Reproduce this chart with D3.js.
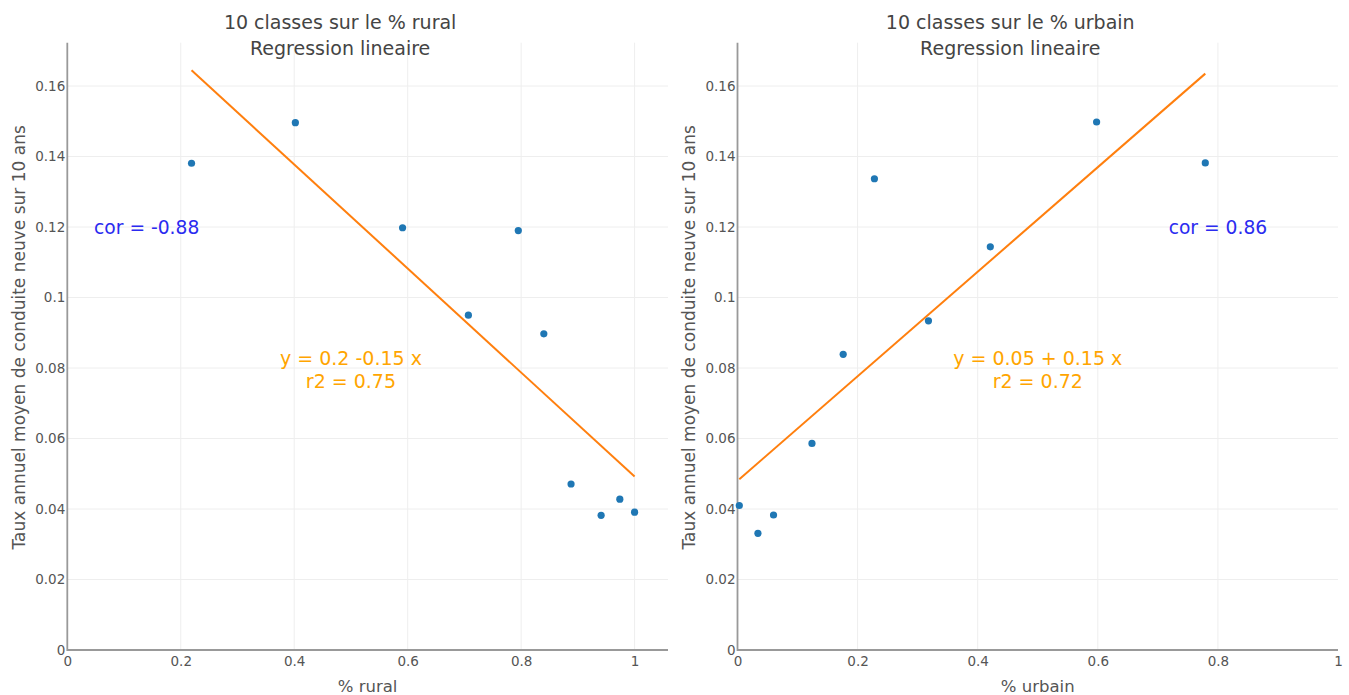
<!DOCTYPE html>
<html>
<head>
<meta charset="utf-8">
<script src="https://cdn.jsdelivr.net/npm/d3@7"></script>
<style>
  html, body { margin: 0; padding: 0; background: #fff; }
  svg { display: block; font-family: "DejaVu Sans", Verdana, sans-serif; }
</style>
</head>
<body>
<svg id="chart" width="1349" height="695"></svg>
<script>
// ---- Data ----
const rural      = [0.219, 0.402, 0.591, 0.707, 0.795, 0.840, 0.888, 0.941, 0.974, 1.000];
const tauxRural  = [0.1381, 0.1496, 0.1198, 0.0950, 0.1190, 0.0897, 0.0471, 0.0382, 0.0428, 0.0391];
const urbain     = [0.003, 0.034, 0.060, 0.124, 0.176, 0.228, 0.318, 0.421, 0.598, 0.779];
const tauxUrbain = [0.0410, 0.0331, 0.0383, 0.0586, 0.0839, 0.1337, 0.0934, 0.1144, 0.1498, 0.1382];

// regression coefficients [intercept, slope]
const fitRural  = [0.1968, -0.1476];
const fitUrbain = [0.0480, 0.1483];

const yTicks = [0, 0.02, 0.04, 0.06, 0.08, 0.1, 0.12, 0.14, 0.16];
const yTickLabels = ["0", "0.02", "0.04", "0.06", "0.08", "0.1", "0.12", "0.14", "0.16"];
const xTicks = [0, 0.2, 0.4, 0.6, 0.8, 1];
const xTickLabels = ["0", "0.2", "0.4", "0.6", "0.8", "1"];

const titlesRural  = ["10 classes sur le % rural", "Regression lineaire"];
const titlesUrbain = ["10 classes sur le % urbain", "Regression lineaire"];
const yTitle = "Taux annuel moyen de conduite neuve sur 10 ans";
const annotRural  = { cor: "cor = -0.88", eq: ["y = 0.2 -0.15 x", "r2 = 0.75"], corPos: [0.14, 0.12], eqPos: [0.5, 0.0795] };
const annotUrbain = { cor: "cor = 0.86",  eq: ["y = 0.05 + 0.15 x", "r2 = 0.72"], corPos: [0.8, 0.12], eqPos: [0.5, 0.0795] };

// ---- Drawing ----
const svg = d3.select("#chart");
const yMax = 0.1723;
const plotTop = 42.7, plotBottom = 650;

const panels = [
  { xs: rural, ys: tauxRural, fit: fitRural, xDomain: [0, 1.0589], range: [67.3, 668], titles: titlesRural, xTitle: "% rural", annot: annotRural },
  { xs: urbain, ys: tauxUrbain, fit: fitUrbain, xDomain: [0, 1], range: [737.5, 1338], titles: titlesUrbain, xTitle: "% urbain", annot: annotUrbain }
];

panels.forEach(p => {
  const x = d3.scaleLinear().domain(p.xDomain).range(p.range);
  const y = d3.scaleLinear().domain([0, yMax]).range([plotBottom, plotTop]);
  const g = svg.append("g");

  // grid
  g.append("g").selectAll("line")
    .data(xTicks.filter(t => t > 0 && x(t) < p.range[1] - 1))
    .join("line")
    .attr("x1", d => x(d)).attr("x2", d => x(d))
    .attr("y1", plotTop).attr("y2", plotBottom)
    .attr("stroke", "#eeeeee").attr("stroke-width", 1);
  g.append("g").selectAll("line")
    .data(yTicks.filter(t => t > 0))
    .join("line")
    .attr("x1", p.range[0]).attr("x2", p.range[1])
    .attr("y1", d => y(d)).attr("y2", d => y(d))
    .attr("stroke", "#eeeeee").attr("stroke-width", 1);

  // axes
  const yAxis = d3.axisLeft(y).tickValues(yTicks).tickSize(0).tickPadding(2)
    .tickFormat((d, i) => yTickLabels[i]);
  const ya = g.append("g").attr("transform", `translate(${p.range[0]},0)`).call(yAxis);
  ya.select(".domain").remove();
  ya.selectAll("text").attr("fill", "#555").style("font-size", "13.5px").style("font-family", "DejaVu Sans");

  const xAxis = d3.axisBottom(x).tickValues(xTicks).tickSize(0).tickPadding(6.5)
    .tickFormat((d, i) => xTickLabels[i]);
  const xa = g.append("g").attr("transform", `translate(0,${plotBottom})`).call(xAxis);
  xa.select(".domain").remove();
  xa.selectAll("text").attr("fill", "#555").style("font-size", "13.5px").style("font-family", "DejaVu Sans");

  g.append("line").attr("x1", p.range[0]).attr("x2", p.range[0]).attr("y1", plotTop).attr("y2", plotBottom + 1)
    .attr("stroke", "#999").attr("stroke-width", 1.8);
  g.append("line").attr("x1", p.range[0]).attr("x2", p.range[1]).attr("y1", plotBottom).attr("y2", plotBottom)
    .attr("stroke", "#999").attr("stroke-width", 2.2);

  // regression line
  const xmin = d3.min(p.xs), xmax = d3.max(p.xs);
  const lineData = [xmin, xmax].map(v => [v, p.fit[0] + p.fit[1] * v]);
  g.append("path")
    .attr("d", d3.line().x(d => x(d[0])).y(d => y(d[1]))(lineData))
    .attr("fill", "none").attr("stroke", "#ff7f0e").attr("stroke-width", 2);

  // points
  g.append("g").selectAll("circle")
    .data(p.xs.map((v, i) => [v, p.ys[i]]))
    .join("circle")
    .attr("cx", d => x(d[0])).attr("cy", d => y(d[1])).attr("r", 3.6)
    .attr("fill", "#1f77b4");

  // titles
  const cx = (p.range[0] + p.range[1]) / 2;
  g.append("text").attr("x", cx - 27.5).attr("y", 29).attr("text-anchor", "middle")
    .attr("fill", "#444").style("font-size", "19px").text(p.titles[0]);
  g.append("text").attr("x", cx - 27.5).attr("y", 55).attr("text-anchor", "middle")
    .attr("fill", "#444").style("font-size", "19px").text(p.titles[1]);

  // axis titles
  g.append("text").attr("x", cx).attr("y", 692).attr("text-anchor", "middle")
    .attr("fill", "#555").style("font-size", "16.5px").text(p.xTitle);
  g.append("text")
    .attr("transform", `translate(${p.range[0] - 42.5},${(plotTop + plotBottom) / 2 - 9}) rotate(-90)`)
    .attr("text-anchor", "middle").attr("fill", "#555").style("font-size", "17px").text(yTitle);

  // annotations
  g.append("text").attr("x", x(p.annot.corPos[0])).attr("y", y(p.annot.corPos[1]))
    .attr("dy", "0.35em").attr("text-anchor", "middle").attr("fill", "#2b2bf0")
    .style("font-size", "18.7px").text(p.annot.cor);
  p.annot.eq.forEach((t, i) => {
    g.append("text").attr("x", x(p.annot.eqPos[0])).attr("y", y(p.annot.eqPos[1]) + (i - 0.5) * 23.7)
      .attr("dy", "0.35em").attr("text-anchor", "middle").attr("fill", "#ffa500")
      .style("font-size", "19px").style("font-weight", "500").text(t);
  });
});
</script>
</body>
</html>
